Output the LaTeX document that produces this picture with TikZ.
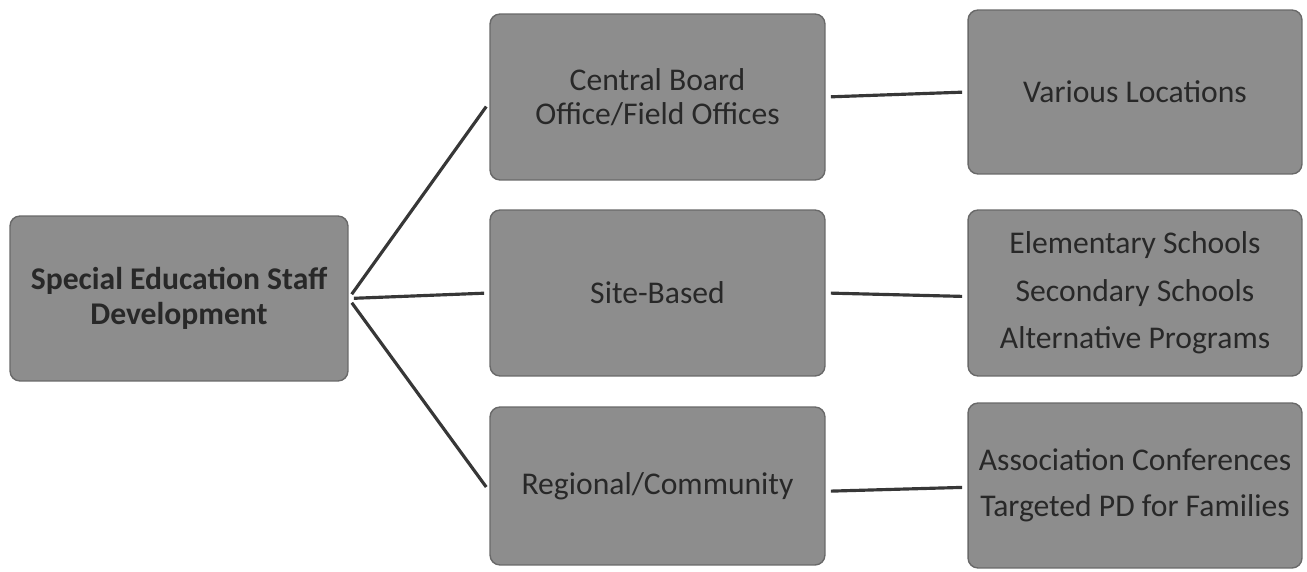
\documentclass[tikz,border=0pt]{standalone}
\usepackage{fontspec}
\setmainfont{Carlito}
\definecolor{boxfill}{RGB}{141,141,141}
\definecolor{boxdraw}{RGB}{105,105,105}
\definecolor{txt}{RGB}{40,40,40}
\definecolor{linec}{RGB}{55,55,55}
\begin{document}
\begin{tikzpicture}[x=0.02cm,y=-0.02cm,
  box/.style={draw=boxdraw,line width=0.8pt,fill=boxfill,rounded corners=0.2cm,
    text=txt,align=center,inner sep=0pt,minimum width=6.7cm,font=\fontsize{18}{19.5}\selectfont},
  conn/.style={draw=linec,line width=1.8pt,shorten <=3pt,shorten >=3pt}]
\useasboundingbox (0,0) rectangle (1307,571);
\node[box,minimum width=6.76cm,minimum height=3.3cm,font=\bfseries\fontsize{18}{20}\selectfont] (root) at (179,298.5) {Special Education Staff\\Development};
\node[box,minimum height=3.32cm] (m1) at (657.5,97) {Central Board\\Office/Field Offices};
\node[box,minimum height=3.32cm] (m2) at (657.5,293) {Site-Based};
\node[box,minimum height=3.16cm] (m3) at (657.5,486) {Regional/Community};
\node[box,minimum width=6.68cm,minimum height=3.28cm] (r1) at (1135,92) {Various Locations};
\node[box,minimum width=6.68cm,minimum height=3.32cm,font=\fontsize{18}{27}\selectfont] (r2) at (1135,293) {Elementary Schools\\Secondary Schools\\Alternative Programs};
\node[box,minimum width=6.68cm,minimum height=3.3cm,font=\fontsize{18}{26}\selectfont] (r3) at (1135,485.5) {Association Conferences\\Targeted PD for Families};
\draw[conn] (root.east) -- ([yshift=-3pt]m1.west);
\draw[conn] (root.east) -- (m2.west);
\draw[conn] (root.east) -- ([yshift=-3pt]m3.west);
\draw[conn] (m1.east) -- (r1.west);
\draw[conn] (m2.east) -- ([yshift=-2pt]r2.west);
\draw[conn] ([yshift=-3pt]m3.east) -- ([yshift=-1pt]r3.west);
\end{tikzpicture}
\end{document}
